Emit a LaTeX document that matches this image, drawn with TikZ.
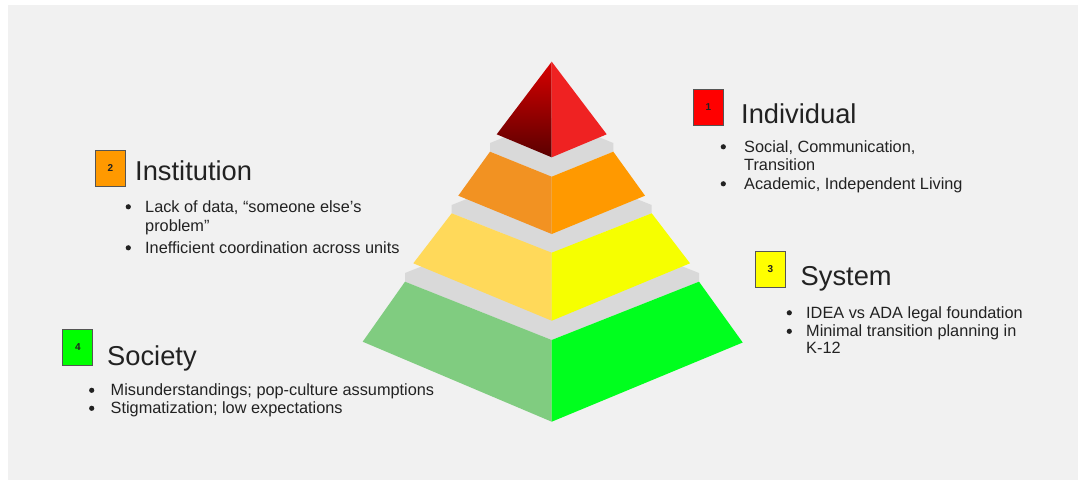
\documentclass[tikz,border=0pt]{standalone}
\usepackage{fontspec}
\setmainfont{Liberation Sans}
\definecolor{bg}{HTML}{F1F1F1}
\definecolor{txt}{HTML}{222222}
\definecolor{boxborder}{HTML}{555555}
\definecolor{topgray}{HTML}{D9D9D9}
\definecolor{redR}{HTML}{EF2222}
\definecolor{redTop}{HTML}{D80000}
\definecolor{redBot}{HTML}{5A0000}
\definecolor{orangeL}{HTML}{F29222}
\definecolor{orangeR}{HTML}{FF9900}
\definecolor{yellowL}{HTML}{FFD95A}
\definecolor{yellowR}{HTML}{F6FF00}
\definecolor{greenL}{HTML}{80CC80}
\definecolor{greenR}{HTML}{00FF1E}
\definecolor{box1}{HTML}{FF0000}
\definecolor{box2}{HTML}{FF9900}
\definecolor{box3}{HTML}{FFFF00}
\definecolor{box4}{HTML}{00FF00}
\begin{document}
\begin{tikzpicture}[x=1pt,y=-1pt,
  numbox/.style={draw=boxborder, line width=0.9pt, minimum width=30pt, minimum height=36pt, inner sep=0pt, font=\fontsize{10}{10}\selectfont\bfseries, text=txt},
  titletext/.style={anchor=base west, inner sep=0pt, font=\fontsize{27.3}{30}\selectfont, text=txt},
  itemtext/.style={anchor=base west, inner sep=0pt, font=\fontsize{16.3}{18}\selectfont, text=txt},
  bulletdot/.style={fill=txt},
]
\useasboundingbox (0,0) rectangle (1078,480);
\fill[white] (0,0) rectangle (1078,480);
\fill[bg] (8,5) rectangle (1078,480);

% ---- green tier (bottom)
\fill[topgray] (405,273) -- (405,281.7) -- (551.7,340) -- (699,281.7) -- (699,273) -- (551.7,215) -- cycle;
\fill[greenL] (405,281.7) -- (551.7,340) -- (551.7,421.7) -- (362.7,341.7) -- cycle;
\fill[greenR] (551.7,340) -- (699,281.7) -- (742.7,342.5) -- (551.7,421.7) -- cycle;

% ---- yellow tier
\fill[topgray] (451.7,205) -- (451.7,213.3) -- (551.7,252.7) -- (651.7,213.3) -- (651.7,205) -- (551.7,165) -- cycle;
\fill[yellowL] (451.7,213.3) -- (551.7,252.7) -- (551.7,320.7) -- (413.3,263.3) -- cycle;
\fill[yellowR] (551.7,252.7) -- (651.7,213.3) -- (690,263.3) -- (551.7,320.7) -- cycle;

% ---- orange tier
\fill[topgray] (490,143) -- (490,151.7) -- (551.7,176.7) -- (613.3,151.7) -- (613.3,143) -- (551.7,118) -- cycle;
\fill[orangeL] (490,151.7) -- (551.7,176.7) -- (551.7,234) -- (458.3,195.7) -- cycle;
\fill[orangeR] (551.7,176.7) -- (613.3,151.7) -- (645,195.7) -- (551.7,234) -- cycle;

% ---- red top
\shade[top color=redTop, bottom color=redBot] (551.7,61.7) -- (496.7,134.3) -- (551.7,157.3) -- cycle;
\fill[redR] (551.7,61.7) -- (551.7,157.3) -- (606.7,134.3) -- cycle;

% ---- 1 Individual
\node[numbox, fill=box1] (n1) at (708.5,107) {1};
\node[titletext] (t1) at (741,123.3) {Individual};
\fill[bulletdot] (723.3,146.8) circle (2.6);
\node[itemtext] (i1a) at (744,152) {Social, Communication,};
\node[itemtext] (i1b) at (744,170.5) {Transition};
\fill[bulletdot] (723.3,183.8) circle (2.6);
\node[itemtext] (i1c) at (744,189) {Academic, Independent Living};

% ---- 2 Institution
\node[numbox, fill=box2] (n2) at (110.3,168) {2};
\node[titletext] (t2) at (135,180) {Institution};
\fill[bulletdot] (128.3,206.8) circle (2.6);
\node[itemtext] (i2a) at (145,212) {Lack of data, “someone else’s};
\node[itemtext] (i2b) at (145,231.5) {problem”};
\fill[bulletdot] (128.3,247.8) circle (2.6);
\node[itemtext] (i2c) at (145,253) {Inefficient coordination across units};

% ---- 3 System
\node[numbox, fill=box3] (n3) at (770.3,269) {3};
\node[titletext] (t3) at (800.5,285) {System};
\fill[bulletdot] (789.3,312.8) circle (2.6);
\node[itemtext] (i3a) at (806,318) {IDEA vs ADA legal foundation};
\fill[bulletdot] (789.3,331.3) circle (2.6);
\node[itemtext] (i3b) at (806,336.5) {Minimal transition planning in};
\node[itemtext] (i3c) at (806,353.5) {K-12};

% ---- 4 Society
\node[numbox, fill=box4] (n4) at (77.8,347.3) {4};
\node[titletext] (t4) at (107,365) {Society};
\fill[bulletdot] (91.7,390.3) circle (2.6);
\node[itemtext] (i4a) at (110.5,395.5) {Misunderstandings; pop-culture assumptions};
\fill[bulletdot] (91.7,408.3) circle (2.6);
\node[itemtext] (i4b) at (110.5,413.5) {Stigmatization; low expectations};
\end{tikzpicture}
\end{document}
